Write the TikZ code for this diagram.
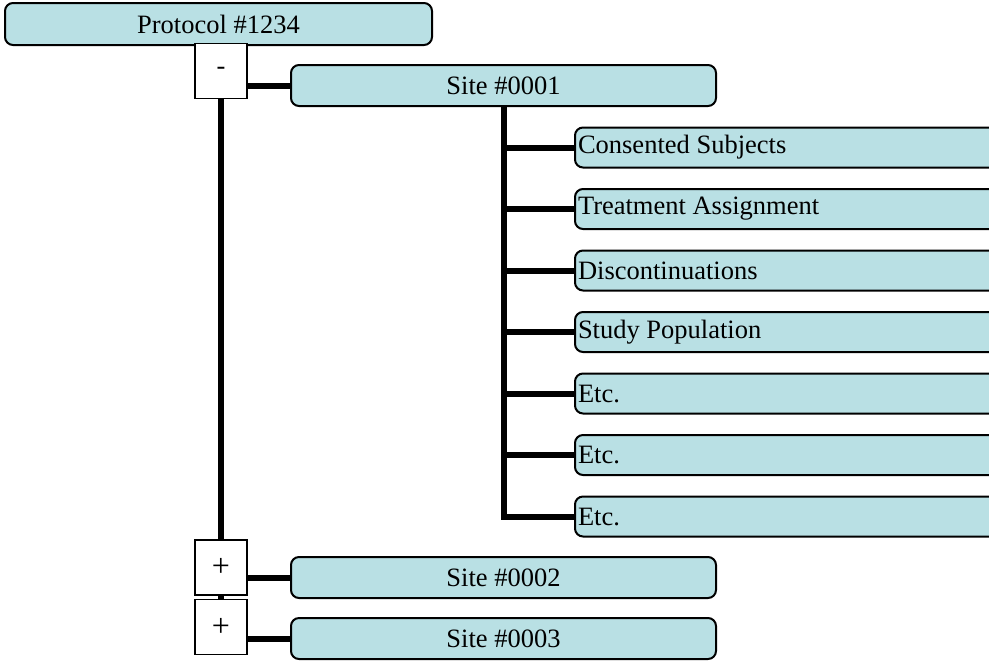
\documentclass[tikz,border=0pt]{standalone}
\usepackage{fontspec}
\setmainfont{Liberation Serif}
\usetikzlibrary{positioning}
\definecolor{tealbox}{RGB}{185,224,228}

\begin{document}
\begin{tikzpicture}[
  x=0.5pt, y=-0.5pt,
  font=\fontsize{13.25}{15}\selectfont,
  box/.style={draw, line width=1pt, rounded corners=4pt, fill=tealbox, inner sep=0pt},
  site/.style={box, minimum width=212.5pt, minimum height=20.5pt},
  item/.style={box, minimum height=20pt, text width=209pt, inner xsep=1.5pt, align=flush left, anchor=west},
  toggle/.style={draw, line width=0.7pt, fill=white, minimum width=26pt, minimum height=27.5pt, inner sep=0pt},
  link/.style={line width=3pt}
]
\useasboundingbox (0,0) rectangle (989,660);

% protocol
\node[box, minimum width=213.5pt, minimum height=21pt] (prot) at (218.5,24) {Protocol \#1234};

% sites
\node[site] (site1) at (503.5,85.5) {Site \#0001};
\node[site] (site2) at (503.5,577.5) {Site \#0002};
\node[site] (site3) at (503.5,638.5) {Site \#0003};

% expand / collapse toggles
\node[toggle] (tmin) at (221,71) {-};
\node[toggle, font=\fontsize{16}{18}\selectfont] (tplus1) at (221,567.5) {+};
\node[toggle, font=\fontsize{16}{18}\selectfont] (tplus2) at (221,627) {+};

% site #0001 items
\node[item] (c1) at (574,147.5) {Consented Subjects};
\node[item] (c2) at (574,209) {Treatment Assignment};
\node[item] (c3) at (574,270.5) {Discontinuations};
\node[item] (c4) at (574,332) {Study Population};
\node[item] (c5) at (574,393.5) {Etc.};
\node[item] (c6) at (574,455) {Etc.};
\node[item] (c7) at (574,516.5) {Etc.};

% tree lines
\draw[link] (tmin) -- (tplus1);
\draw[link] (tplus1) -- (tplus2);
\draw[link] (tmin.east |- site1.west) -- (site1.west);
\draw[link] (tplus1.east |- site2.west) -- (site2.west);
\draw[link] (tplus2.east |- site3.west) -- (site3.west);
\draw[link] (site1.south) |- (c7.west);
\foreach \i in {1,...,6}
  \draw[link] (site1.south |- c\i.west) -- (c\i.west);
\end{tikzpicture}
\end{document}
